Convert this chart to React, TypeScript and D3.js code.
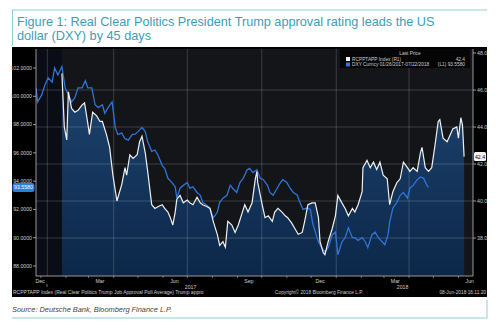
import React from "react";
import * as d3 from "d3";

const rcpDates = ["2017-01-27","2017-01-30","2017-02-02","2017-02-04","2017-02-08","2017-02-12","2017-02-16","2017-02-21","2017-02-24","2017-02-28","2017-03-02","2017-03-06","2017-03-11","2017-03-15","2017-03-18","2017-03-23","2017-03-27","2017-03-31","2017-04-05","2017-04-11","2017-04-15","2017-04-17","2017-04-21","2017-04-25","2017-04-30","2017-05-03","2017-05-06","2017-05-10","2017-05-13","2017-05-18","2017-05-22","2017-05-26","2017-05-31","2017-06-03","2017-06-07","2017-06-10","2017-06-13","2017-06-16","2017-06-18","2017-06-22","2017-06-26","2017-07-01","2017-07-04","2017-07-08","2017-07-13","2017-07-17","2017-07-20","2017-07-25","2017-07-29","2017-08-02","2017-08-07","2017-08-10","2017-08-14","2017-08-17","2017-08-20","2017-08-25","2017-08-29","2017-09-02","2017-09-07","2017-09-10","2017-09-14","2017-09-19","2017-09-23","2017-09-25","2017-09-26","2017-10-01","2017-10-05","2017-10-09","2017-10-14","2017-10-17","2017-10-21","2017-10-26","2017-10-30","2017-11-02","2017-11-07","2017-11-11","2017-11-15","2017-11-20","2017-11-23","2017-11-27","2017-12-02","2017-12-06","2017-12-10","2017-12-12","2017-12-16","2017-12-18","2017-12-22","2017-12-27","2017-12-31","2018-01-03","2018-01-08","2018-01-12","2018-01-16","2018-01-21","2018-01-24","2018-01-28","2018-02-02","2018-02-03","2018-02-08","2018-02-12","2018-02-16","2018-02-20","2018-02-24","2018-02-28","2018-03-05","2018-03-08","2018-03-12","2018-03-17","2018-03-21","2018-03-25","2018-03-30","2018-04-02","2018-04-06","2018-04-11","2018-04-15","2018-04-17","2018-04-21","2018-04-25","2018-04-29","2018-05-03","2018-05-07","2018-05-09","2018-05-13","2018-05-18","2018-05-22","2018-05-25","2018-05-30","2018-06-01","2018-06-04","2018-06-06","2018-06-08"];
const rcpValues = [46.9,44.0,43.3,45.9,45.0,44.8,44.9,45.2,45.3,44.2,43.6,44.8,44.6,44.3,44.3,43.6,42.9,41.4,40.0,40.9,41.8,41.4,42.5,42.3,42.5,43.2,43.5,42.6,41.6,39.8,39.6,39.7,39.8,39.6,39.4,39.1,38.7,39.4,40.1,40.3,39.9,40.05,39.9,39.8,40.2,39.9,39.8,39.7,39.6,38.9,38.2,37.6,37.8,37.5,38.9,38.7,38.3,38.7,39.4,39.8,39.4,39.9,41.2,41.6,41.0,39.9,39.1,39.2,38.9,39.4,39.6,39.4,39.2,39.1,38.8,38.5,38.2,38.3,38.9,39.8,39.9,39.9,39.1,37.8,37.2,37.1,37.8,38.5,39.2,40.3,39.9,39.6,39.2,39.6,39.4,39.8,40.5,41.8,42.2,41.8,42.1,41.7,42.1,41.4,41.2,39.8,40.5,41.0,41.2,42.1,41.8,41.6,41.8,41.6,42.6,42.9,41.8,41.6,41.8,43.0,44.3,44.4,43.4,43.2,43.6,43.9,44.0,43.4,44.5,44.1,42.4];

const dxyDates = ["2016-12-26","2016-12-28","2017-01-02","2017-01-06","2017-01-10","2017-01-15","2017-01-18","2017-01-22","2017-01-27","2017-01-31","2017-02-04","2017-02-08","2017-02-12","2017-02-16","2017-02-21","2017-02-25","2017-02-28","2017-03-05","2017-03-09","2017-03-13","2017-03-18","2017-03-21","2017-03-25","2017-03-30","2017-04-03","2017-04-06","2017-04-11","2017-04-15","2017-04-19","2017-04-24","2017-04-27","2017-05-01","2017-05-06","2017-05-10","2017-05-13","2017-05-18","2017-05-22","2017-05-26","2017-05-31","2017-06-03","2017-06-07","2017-06-12","2017-06-16","2017-06-18","2017-06-22","2017-06-26","2017-07-01","2017-07-04","2017-07-08","2017-07-13","2017-07-17","2017-07-20","2017-07-25","2017-07-29","2017-08-02","2017-08-07","2017-08-10","2017-08-14","2017-08-19","2017-08-23","2017-08-26","2017-08-31","2017-09-04","2017-09-08","2017-09-13","2017-09-16","2017-09-20","2017-09-25","2017-09-29","2017-10-03","2017-10-08","2017-10-11","2017-10-15","2017-10-20","2017-10-24","2017-10-27","2017-11-01","2017-11-05","2017-11-09","2017-11-14","2017-11-17","2017-11-21","2017-11-26","2017-11-30","2017-12-03","2017-12-10","2017-12-14","2017-12-18","2017-12-22","2017-12-27","2017-12-31","2018-01-03","2018-01-08","2018-01-12","2018-01-16","2018-01-21","2018-01-24","2018-01-28","2018-02-02","2018-02-06","2018-02-09","2018-02-14","2018-02-18","2018-02-22","2018-02-27","2018-03-02","2018-03-06","2018-03-08","2018-03-12","2018-03-17","2018-03-21","2018-03-25","2018-03-30","2018-04-02","2018-04-06","2018-04-11","2018-04-15","2018-04-19","2018-04-23","2018-04-25"];
const dxyValues = [100.6,99.6,100.1,100.8,101.3,101.0,102.0,101.5,102.1,100.6,100.1,99.6,99.9,100.6,100.6,101.1,100.6,100.6,99.4,99.2,99.4,98.8,99.2,99.6,97.8,97.3,97.4,97.0,96.9,97.3,97.3,97.5,97.8,97.5,96.8,96.1,96.2,95.8,95.1,94.9,94.2,93.9,93.6,92.8,93.5,93.7,93.9,93.5,93.6,93.2,93.0,92.5,92.3,92.1,91.4,91.8,92.5,92.8,93.0,93.7,93.5,93.2,93.9,94.2,94.8,94.9,94.6,94.8,94.2,94.1,93.7,93.2,93.0,93.5,93.9,94.1,93.9,93.5,93.2,93.0,92.5,92.0,92.1,92.0,91.0,89.7,89.3,89.0,89.3,90.2,90.4,88.8,89.7,90.0,90.7,90.0,90.0,89.8,90.0,89.7,89.3,90.2,90.4,90.0,89.7,89.5,90.2,91.1,92.1,92.5,93.0,93.2,92.8,93.5,93.7,94.1,94.3,94.2,93.7,93.558];

const leftTicks = [88, 90, 92, 94, 96, 98, 100, 102];
const rightTicks = [38, 40, 42, 44, 46, 48];
const monthLabels = [
  { d: "2016-12-31", t: "Dec" },
  { d: "2017-03-15", t: "Mar" },
  { d: "2017-06-15", t: "Jun" },
  { d: "2017-09-15", t: "Sep" },
  { d: "2017-12-12", t: "Dec" },
  { d: "2018-03-15", t: "Mar" },
  { d: "2018-06-15", t: "Jun" },
];
const yearLabels = [{ d: "2017-07-05", t: "2017" }, { d: "2018-03-24", t: "2018" }];
const gridDates = ["2017-01-09", "2017-04-01", "2017-07-01", "2017-10-01", "2018-01-01", "2018-04-01"];
const monthTickDates = ["2017-01-01","2017-02-01","2017-03-01","2017-04-01","2017-05-01","2017-06-01","2017-07-01","2017-08-01","2017-09-01","2017-10-01","2017-11-01","2017-12-01","2018-01-01","2018-02-01","2018-03-01","2018-04-01","2018-05-01","2018-06-01"];

const parse = d3.utcParse("%Y-%m-%d");

export default function App() {
  const W = 500, H = 328;
  const L = 36, R = 473, T = 49, B = 276;
  const x = d3.scaleUtc().domain([parse("2016-12-26")!, parse("2018-06-19")!]).range([L, R]);
  const yL = d3.scaleLinear().domain([88, 102]).range([266, 68]);
  const yR = d3.scaleLinear().domain([36, 46]).range([275, 90]);

  const rcp = rcpDates.map((d, i) => ({ d: parse(d)!, v: rcpValues[i] }));
  const dxy = dxyDates.map((d, i) => ({ d: parse(d)!, v: dxyValues[i] }));

  const rcpLine = d3.line<any>().x(p => x(p.d)).y(p => yR(p.v));
  const rcpArea = d3.area<any>().x(p => x(p.d)).y0(B).y1(p => yR(p.v));
  const dxyLine = d3.line<any>().x(p => x(p.d)).y(p => yL(p.v));

  const font = "'Liberation Sans', Arial, sans-serif";
  const lastR = rcpValues[rcpValues.length - 1];
  const lastL = dxyValues[dxyValues.length - 1];

  return (
    <svg width={W} height={H} style={{ position: "absolute", left: 0, top: 0, background: "#fff" }} fontFamily={font}>
      <defs>
        <linearGradient id="fillg" x1="0" y1={T} x2="0" y2={B} gradientUnits="userSpaceOnUse">
          <stop offset="0" stopColor="#204876" />
          <stop offset="1" stopColor="#0c2748" />
        </linearGradient>
        <clipPath id="plotclip"><rect x={L} y={T} width={R - L} height={B - T} /></clipPath>
      </defs>
      {/* frame */}
      <line x1={12} x2={487} y1={10} y2={10} stroke="#8fcdd6" strokeWidth={1} />
      <line x1={12.5} x2={12.5} y1={10} y2={46} stroke="#8fcdd6" strokeWidth={1} />
      <line x1={12} x2={487} y1={318} y2={318} stroke="#8fcdd6" strokeWidth={1} />
      <line x1={487} x2={487} y1={300} y2={318} stroke="#8fcdd6" strokeWidth={1} />
      <text x={17} y={26} fontSize={12.7} fill="#3aa0b4">Figure 1: Real Clear Politics President Trump approval rating leads the US</text>
      <text x={17} y={40} fontSize={12.7} fill="#3aa0b4">dollar (DXY) by 45 days</text>

      {/* black panel */}
      <rect x={12} y={47} width={475} height={250} fill="#000" />
      <rect x={L} y={T} width={R - L} height={B - T} fill="#141519" />
      <rect x={L} y={T} width={x(rcp[0].d) - L} height={B - T} fill="#0a0d16" />

      <g clipPath="url(#plotclip)">
        <path d={rcpArea(rcp)!} fill="url(#fillg)" />
        {rightTicks.filter(t => t < 48).map(t => (
          <line key={t} x1={L} x2={R} y1={yR(t)} y2={yR(t)} stroke="#fff" strokeOpacity={0.22} strokeWidth={0.8} />
        ))}
        {gridDates.map(g => (
          <line key={g} x1={x(parse(g)!)} x2={x(parse(g)!)} y1={T} y2={B} stroke="#fff" strokeOpacity={0.22} strokeWidth={0.8} />
        ))}
        <path d={dxyLine(dxy)!} fill="none" stroke="#2f74d6" strokeWidth={1.3} />
        <path d={rcpLine(rcp)!} fill="none" stroke="#eef0f2" strokeWidth={1.2} />
      </g>

      {/* axes */}
      <line x1={L} x2={L} y1={T} y2={B} stroke="#bbb" strokeWidth={0.8} />
      <line x1={R} x2={R} y1={T} y2={B} stroke="#bbb" strokeWidth={0.8} />
      <line x1={L} x2={R} y1={B} y2={B} stroke="#bbb" strokeWidth={0.8} />
      {leftTicks.map(t => (
        <g key={t}>
          <line x1={L - 3} x2={L} y1={yL(t)} y2={yL(t)} stroke="#bbb" strokeWidth={0.8} />
          <text x={L - 4} y={yL(t) + 1.8} fontSize={5.2} fill="#ccc" textAnchor="end">{t.toFixed(4)}</text>
        </g>
      ))}
      {rightTicks.map(t => (
        <g key={t}>
          <line x1={R} x2={R + 3} y1={yR(t)} y2={yR(t)} stroke="#bbb" strokeWidth={0.8} />
          <text x={R + 4} y={yR(t) + 1.8} fontSize={5.2} fill="#ccc">{t.toFixed(1)}</text>
        </g>
      ))}
      {monthTickDates.map(m => (
        <line key={m} x1={x(parse(m)!)} x2={x(parse(m)!)} y1={B} y2={B + 2} stroke="#bbb" strokeWidth={0.6} />
      ))}
      {monthLabels.map((m, i) => (
        <text key={i} x={x(parse(m.d)!)} y={B + 7} fontSize={5.2} fill="#ccc" textAnchor="middle">{m.t}</text>
      ))}
      {yearLabels.map((m, i) => (
        <text key={i} x={x(parse(m.d)!)} y={B + 12.5} fontSize={5.2} fill="#ccc" textAnchor="middle">{m.t}</text>
      ))}
      <line x1={47} x2={47} y1={B + 8} y2={B + 11} stroke="#bbb" strokeWidth={0.6} />

      {/* last value tags */}
      <rect x={12.5} y={yL(lastL) - 4.5} width={22} height={9} rx={2.5} fill="#2f7de0" />
      <text x={23.5} y={yL(lastL) + 1.9} fontSize={5.2} fill="#fff" textAnchor="middle">{lastL.toFixed(4)}</text>
      <rect x={474} y={yR(lastR) - 4.5} width={12} height={9} rx={1.5} fill="#f2f2f2" />
      <text x={480} y={yR(lastR) + 1.9} fontSize={5.2} fill="#000" textAnchor="middle">{lastR.toFixed(1)}</text>

      {/* legend */}
      <rect x={340} y={49} width={130} height={19} fill="#050505" />
      <text x={410} y={55} fontSize={4.8} fill="#ccc" textAnchor="middle">Last Price</text>
      <rect x={346} y={57} width={4} height={4} fill="#f2f2f2" />
      <text x={352} y={60.8} fontSize={4.8} fill="#ccc">RCPPTAPP Index  (R1)</text>
      <text x={465} y={60.8} fontSize={4.8} fill="#ccc" textAnchor="end">{lastR.toFixed(1)}</text>
      <rect x={346} y={62.5} width={4} height={4} fill="#2f74d6" />
      <text x={352} y={66.3} fontSize={4.8} fill="#ccc">DXY Curncy 01/26/2017-07/22/2018</text>
      <text x={465} y={66.3} fontSize={4.8} fill="#ccc" textAnchor="end">(L1) {lastL.toFixed(4)}</text>

      {/* footer */}
      <text x={13} y={294} fontSize={5} fill="#ccc">RCPPTAPP Index (Real Clear Politics Trump Job Approval Poll Average) Trump appro</text>
      <text x={275} y={294} fontSize={4.8} fill="#ccc">Copyright© 2018 Bloomberg Finance L.P.</text>
      <text x={486} y={294} fontSize={4.8} fill="#ccc" textAnchor="end">08-Jun-2018 16:11:20</text>

      <text x={12} y={312} fontSize={7.4} fontStyle="italic" fill="#444">Source: Deutsche Bank, Bloomberg Finance L.P.</text>
    </svg>
  );
}
